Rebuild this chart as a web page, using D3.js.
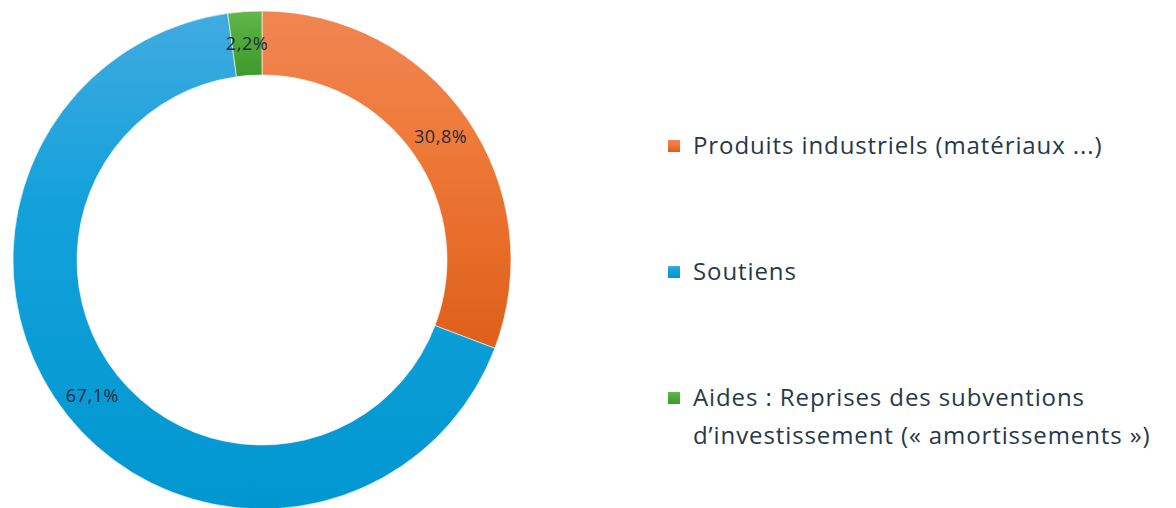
<!DOCTYPE html>
<html>
<head>
<meta charset="utf-8">
<script src="https://cdn.jsdelivr.net/npm/d3@7"></script>
<style>
  body { margin: 0; background: #fff; }
  svg { display: block; }
</style>
</head>
<body>
<svg id="chart"></svg>
<script>
// data
const categories = ["Produits industriels (matériaux ...)", "Soutiens", "Aides : Reprises des subventions d’investissement (« amortissements »)"];
const shares = [30.8, 67.1, 2.2];
const shareLabels = ["30,8%", "67,1%", "2,2%"];
const legendLines = [
  ["Produits industriels (matériaux ...)"],
  ["Soutiens"],
  ["Aides : Reprises des subventions", "d’investissement (« amortissements »)"]
];
const topColors = ["#f08552", "#40abe0", "#64b74b"];
const midColors = ["#ef7a3a", "#14a1db", "#52aa3b"];
const bottomColors = ["#de5f18", "#0097d0", "#3e9a2b"];

const width = 1176, height = 508;
const cx = 262, cy = 260, outerR = 249, innerR = 185;

const svg = d3.select("#chart").attr("width", width).attr("height", height);

// vertical gradient per slice (light top -> dark bottom)
const defs = svg.append("defs");
categories.forEach((c, i) => {
  const g = defs.append("linearGradient")
    .attr("id", "grad" + i)
    .attr("x1", 0).attr("y1", 0)
    .attr("x2", 0).attr("y2", 1);
  g.append("stop").attr("offset", "0%").attr("stop-color", topColors[i]);
  g.append("stop").attr("offset", "38%").attr("stop-color", midColors[i]);
  g.append("stop").attr("offset", "100%").attr("stop-color", bottomColors[i]);
});

const pie = d3.pie().sort(null).value(d => d);
const arcs = pie(shares);
const arc = d3.arc().innerRadius(innerR).outerRadius(outerR);

const pieG = svg.append("g").attr("transform", `translate(${cx}, ${cy})`);

pieG.selectAll("path")
  .data(arcs)
  .join("path")
  .attr("d", arc)
  .attr("fill", (d, i) => `url(#grad${i})`)
  .attr("stroke", "#ffffff")
  .attr("stroke-width", 0.6);

pieG.selectAll("text.lbl")
  .data(arcs)
  .join("text")
  .attr("class", "lbl")
  .attr("x", d => arc.centroid(d)[0])
  .attr("y", d => arc.centroid(d)[1])
  .attr("dy", "0.35em")
  .attr("text-anchor", "middle")
  .style("font-family", "'Open Sans', sans-serif")
  .style("font-size", "18px")
  .style("letter-spacing", "0.6px")
  .style("fill", "#1c2c3e")
  .text((d, i) => shareLabels[i]);

// legend
const legendX = 668, legendYs = [145, 271, 397];
const legend = svg.append("g");
legendLines.forEach((lines, i) => {
  legend.append("rect")
    .attr("x", legendX)
    .attr("y", legendYs[i] - 5)
    .attr("width", 12)
    .attr("height", 12)
    .attr("fill", `url(#grad${i})`);
  const t = legend.append("text")
    .attr("x", legendX + 25)
    .attr("y", legendYs[i])
    .style("font-family", "'Open Sans', sans-serif")
    .style("font-size", "24px")
    .style("letter-spacing", "0.9px")
    .style("fill", "#26384b");
  lines.forEach((ln, j) => {
    t.append("tspan")
      .attr("x", legendX + 25)
      .attr("dy", j === 0 ? "0.36em" : "1.6em")
      .text(ln);
  });
});
</script>
</body>
</html>
